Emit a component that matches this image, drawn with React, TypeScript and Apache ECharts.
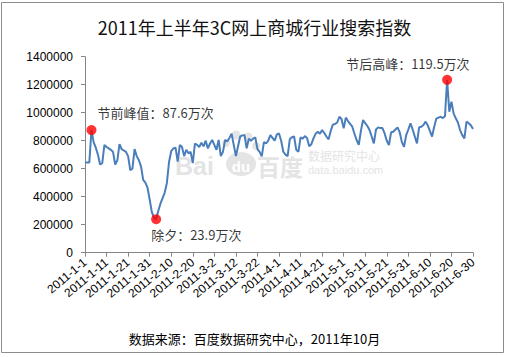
import React, { useEffect, useRef } from "react";
import * as echarts from "echarts";

// Daily search index values (thousands), 2011 H1
const jan = [645, 645, 645, 876, 790, 750, 700, 630, 640, 770, 755, 745, 735, 720, 630, 660, 775, 740, 730, 720, 690, 590, 600, 740, 690, 660, 615, 520, 500, 465, 380];
const feb = [290, 250, 239, 300, 350, 390, 430, 500, 650, 725, 745, 750, 650, 770, 755, 690, 735, 710, 720, 640, 780, 770, 755, 785, 760, 800, 745, 780];
const mar = [805, 770, 735, 805, 690, 720, 805, 795, 820, 850, 770, 690, 760, 830, 838, 840, 745, 815, 800, 815, 824, 740, 720, 688, 790, 780, 800, 840, 820, 800, 845];
const apr = [852, 800, 721, 700, 690, 810, 825, 830, 735, 720, 824, 815, 833, 820, 760, 775, 817, 850, 864, 850, 876, 855, 830, 810, 870, 915, 919, 930, 971, 955];
const may = [888, 965, 940, 920, 900, 850, 805, 770, 870, 948, 925, 905, 876, 830, 781, 880, 895, 890, 890, 852, 800, 769, 860, 864, 880, 895, 860, 790, 757, 840, 880];
const jun = [924, 880, 830, 781, 895, 900, 912, 936, 910, 870, 829, 900, 958, 965, 971, 962, 975, 1235, 1007, 1079, 995, 960, 930, 876, 840, 817, 936, 925, 910, 884];

const monthLengths = [31, 28, 31, 30, 31, 30];
const yTicks = [0, 200000, 400000, 600000, 800000, 1000000, 1200000, 1400000];

// Highlighted points: [category index, label text]
const highlightIdx = [3, 33, 168];
const highlightText = ["节前峰值：87.6万次", "除夕：23.9万次", "节后高峰：119.5万次"];

const title = "2011年上半年3C网上商城行业搜索指数";
const source = "数据来源：百度数据研究中心，2011年10月";

const categories: string[] = [];
monthLengths.forEach((len, m) => {
  for (let d = 1; d <= len; d++) categories.push(`2011-${m + 1}-${d}`);
});
const values = [...jan, ...feb, ...mar, ...apr, ...may, ...jun].map((v) => v * 1000);

const labelPos: [number, number][] = [[11, -13], [0, 20], [-96, -11]];

export default function App() {
  const ref = useRef<HTMLDivElement>(null);
  useEffect(() => {
    const chart = echarts.init(ref.current!, null, { renderer: "svg" });
    const cjk = '"Noto Sans CJK SC", sans-serif';
    const lat = '"Liberation Sans", Arial, sans-serif';
    const wm = "#e4e4e4";
    chart.setOption({
      animation: false,
      backgroundColor: "#ffffff",
      title: {
        text: title,
        left: "center",
        top: 13,
        textStyle: { fontFamily: cjk, fontSize: 18, fontWeight: "normal", color: "#111" },
      },
      grid: { left: 85, right: 36, top: 56.7, bottom: 104.3 },
      xAxis: {
        type: "category",
        data: categories,
        boundaryGap: false,
        axisLine: { lineStyle: { color: "#868686", width: 1 } },
        axisTick: { interval: 9, length: 4, lineStyle: { color: "#868686" } },
        axisLabel: {
          interval: 9,
          rotate: 40,
          margin: 8,
          fontSize: 12,
          fontFamily: lat,
          color: "#000",
        },
        splitLine: { show: false },
      },
      yAxis: {
        type: "value",
        min: yTicks[0],
        max: yTicks[yTicks.length - 1],
        interval: 200000,
        axisLine: { show: true, lineStyle: { color: "#868686", width: 1 } },
        axisTick: { show: true, length: 4, lineStyle: { color: "#868686" } },
        axisLabel: {
          margin: 12,
          fontSize: 12,
          fontFamily: lat,
          color: "#000",
          formatter: (v: number) => String(v),
        },
        splitLine: { show: false },
      },
      graphic: [
        {
          type: "rect",
          shape: { x: 1.5, y: 2.5, width: 502, height: 350 },
          style: { fill: "none", stroke: "#8c8c8c", lineWidth: 1 },
          silent: true,
          z: 0,
        },
        { type: "text", x: 175, y: 166, z: 0, silent: true, style: { text: "Bai", font: `bold 25px ${lat}`, fill: wm, verticalAlign: "middle" } },
        { type: "circle", z: 0, silent: true, shape: { cx: 226, cy: 143, r: 4 }, style: { fill: wm } },
        { type: "circle", z: 0, silent: true, shape: { cx: 236, cy: 135, r: 4.5 }, style: { fill: wm } },
        { type: "circle", z: 0, silent: true, shape: { cx: 248, cy: 137, r: 4.5 }, style: { fill: wm } },
        { type: "circle", z: 0, silent: true, shape: { cx: 256, cy: 146, r: 4 }, style: { fill: wm } },
        { type: "ellipse", z: 0, silent: true, shape: { cx: 241, cy: 164, rx: 15, ry: 12 }, style: { fill: wm } },
        { type: "text", x: 241, y: 166, z: 0, silent: true, style: { text: "du", font: `bold 15px ${lat}`, fill: "#ffffff", align: "center", verticalAlign: "middle" } },
        { type: "text", x: 257, y: 166, z: 0, silent: true, style: { text: "百度", font: `bold 23px ${cjk}`, fill: wm, verticalAlign: "middle" } },
        { type: "text", x: 308, y: 155, z: 0, silent: true, style: { text: "数据研究中心", font: `12px ${cjk}`, fill: wm, verticalAlign: "middle" } },
        { type: "text", x: 308, y: 170, z: 0, silent: true, style: { text: "data.baidu.com", font: `11px ${lat}`, fill: wm, verticalAlign: "middle" } },
        {
          type: "text",
          x: 254.5,
          y: 338,
          z: 5,
          style: { text: source, font: `13px ${cjk}`, fill: "#000", align: "center", verticalAlign: "middle" },
        },
      ],
      series: [
        {
          type: "line",
          data: values,
          showSymbol: false,
          symbol: "none",
          z: 3,
          lineStyle: { color: "#4a7ebb", width: 2 },
        },
        {
          type: "scatter",
          z: 4,
          symbolSize: 10,
          itemStyle: { color: "#ff0000" },
          data: highlightIdx.map((idx, i) => ({
            value: [idx, values[idx]],
            label: {
              show: true,
              formatter: highlightText[i],
              position: labelPos[i],
              align: "left",
              verticalAlign: "middle",
              fontFamily: cjk,
              fontSize: 13,
              color: "#000",
            },
          })),
        },
      ],
    });
    return () => chart.dispose();
  }, []);
  return (
    <div
      ref={ref}
      style={{ position: "absolute", left: 0, top: 0, width: 509, height: 357, background: "#fff" }}
    />
  );
}
